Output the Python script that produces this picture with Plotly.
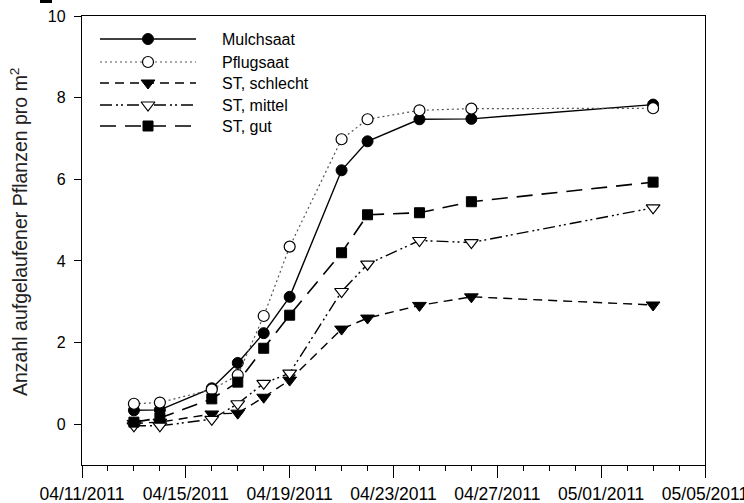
import plotly.graph_objects as go

# Emergence counts per treatment (plants per m²)
dates = ["2011-04-13", "2011-04-14", "2011-04-16", "2011-04-17", "2011-04-18",
         "2011-04-19", "2011-04-21", "2011-04-22", "2011-04-24", "2011-04-26",
         "2011-05-03"]
mulchsaat = [0.34, 0.35, 0.88, 1.50, 2.23, 3.12, 6.22, 6.93, 7.47, 7.48, 7.83]
pflugsaat = [0.50, 0.53, 0.85, 1.20, 2.65, 4.35, 6.98, 7.47, 7.69, 7.73, 7.74]
st_schlecht = [0.02, 0.05, 0.25, 0.27, 0.66, 1.08, 2.33, 2.60, 2.91, 3.12, 2.92]
st_mittel = [-0.04, -0.04, 0.12, 0.50, 1.00, 1.25, 3.25, 3.92, 4.50, 4.45, 5.30]
st_gut = [0.05, 0.15, 0.62, 1.03, 1.86, 2.67, 4.20, 5.13, 5.18, 5.45, 5.93]

series_names = ["Mulchsaat", "Pflugsaat", "ST, schlecht", "ST, mittel", "ST, gut"]
series_values = [mulchsaat, pflugsaat, st_schlecht, st_mittel, st_gut]

x_tick_labels = ["04/11/2011", "04/15/2011", "04/19/2011", "04/23/2011",
                 "04/27/2011", "05/01/2011", "05/05/2011"]
x_tick_dates = ["2011-04-11", "2011-04-15", "2011-04-19", "2011-04-23",
                "2011-04-27", "2011-05-01", "2011-05-05"]
y_tick_values = [0, 2, 4, 6, 8, 10]
y_title = "Anzahl aufgelaufener Pflanzen pro m<sup>2</sup>"

FONT = "Liberation Sans, Arial, sans-serif"

# Plot box in pixels (used for the overlay legend axis)
BOX_L, BOX_R, BOX_T, BOX_B = 82, 705, 16, 465
BOX_W, BOX_H = BOX_R - BOX_L, BOX_B - BOX_T

styles = [
    dict(line=dict(color="black", width=1.4, dash="solid"),
         marker=dict(symbol="circle", size=11, color="black",
                     line=dict(color="black", width=1))),
    dict(line=dict(color="#555555", width=1.2, dash="2px,3px"),
         marker=dict(symbol="circle", size=11, color="white",
                     line=dict(color="black", width=1.2))),
    dict(line=dict(color="black", width=1.4, dash="9px,6px"),
         marker=dict(symbol="triangle-down", size=12, color="black",
                     line=dict(color="black", width=1))),
    dict(line=dict(color="black", width=1.4, dash="12px,4px,2px,3px,2px,4px"),
         marker=dict(symbol="triangle-down", size=12, color="white",
                     line=dict(color="black", width=1.2))),
    dict(line=dict(color="black", width=1.6, dash="16px,9px"),
         marker=dict(symbol="square", size=10, color="black",
                     line=dict(color="black", width=1))),
]

fig = go.Figure()

for name, values, st in zip(series_names, series_values, styles):
    fig.add_trace(go.Scatter(
        x=dates, y=values, name=name, mode="lines+markers",
        line=st["line"], marker=st["marker"], showlegend=False,
    ))

# Hand-built legend on an overlay axis measured in pixels of the plot box
leg_x0, leg_x1, leg_text_x = 100, 196, 220
leg_rows = [39, 62, 83, 105, 126]
for name, st, yr in zip(series_names, styles, leg_rows):
    fig.add_trace(go.Scatter(
        x=[leg_x0, leg_x1], y=[yr, yr], mode="lines", line=st["line"],
        xaxis="x2", yaxis="y2", showlegend=False, hoverinfo="skip",
    ))
    fig.add_trace(go.Scatter(
        x=[(leg_x0 + leg_x1) / 2], y=[yr], mode="markers", marker=st["marker"],
        xaxis="x2", yaxis="y2", showlegend=False, hoverinfo="skip",
    ))
    fig.add_annotation(
        x=leg_text_x, y=yr, xref="x2", yref="y2", text=name, showarrow=False,
        xanchor="left", yanchor="middle",
        font=dict(family=FONT, size=16, color="black"),
    )

# Rotated y-axis title
fig.add_annotation(
    x=(19 - BOX_L) / BOX_W, y=(BOX_B - 232) / BOX_H, xref="paper", yref="paper",
    text=y_title, showarrow=False, textangle=-90,
    xanchor="center", yanchor="middle",
    font=dict(family=FONT, size=19.5, color="#222222"),
)

fig.update_layout(
    width=744, height=503,
    margin=dict(l=BOX_L, r=744 - BOX_R, t=BOX_T, b=503 - BOX_B, autoexpand=False),
    paper_bgcolor="white", plot_bgcolor="white",
    font=dict(family=FONT, color="black"),
    xaxis=dict(
        type="date", range=["2011-04-11", "2011-05-05"],
        tickvals=x_tick_dates, ticktext=x_tick_labels,
        ticks="outside", ticklen=12, tickwidth=1.4, tickcolor="black",
        minor=dict(dtick=86400000, ticks="outside", ticklen=5,
                   tickwidth=1.2, tickcolor="black", showgrid=False),
        showline=True, linecolor="black", linewidth=1.4, mirror=True,
        showgrid=False, zeroline=False, automargin=False,
        ticklabeloverflow="allow", ticklabelstandoff=1,
        tickfont=dict(family=FONT, size=17.5, color="black"),
    ),
    yaxis=dict(
        range=[-1, 10], tickvals=y_tick_values,
        ticks="outside", ticklen=7, tickwidth=1.4, tickcolor="black",
        showline=True, linecolor="black", linewidth=1.4, mirror=True,
        showgrid=False, zeroline=False, ticklabelstandoff=5, automargin=False,
        tickfont=dict(family=FONT, size=16, color="black"),
    ),
    xaxis2=dict(range=[BOX_L, BOX_R], overlaying="x", visible=False,
                fixedrange=True, automargin=False),
    yaxis2=dict(range=[BOX_B, BOX_T], overlaying="y", visible=False,
                fixedrange=True, automargin=False),
    shapes=[dict(type="rect", xref="paper", yref="paper",
                 x0=-42 / BOX_W, x1=-30 / BOX_W, y0=1 + 13 / BOX_H, y1=1 + 16 / BOX_H,
                 fillcolor="black", line=dict(width=0))],
)

fig.write_html("out.html")
